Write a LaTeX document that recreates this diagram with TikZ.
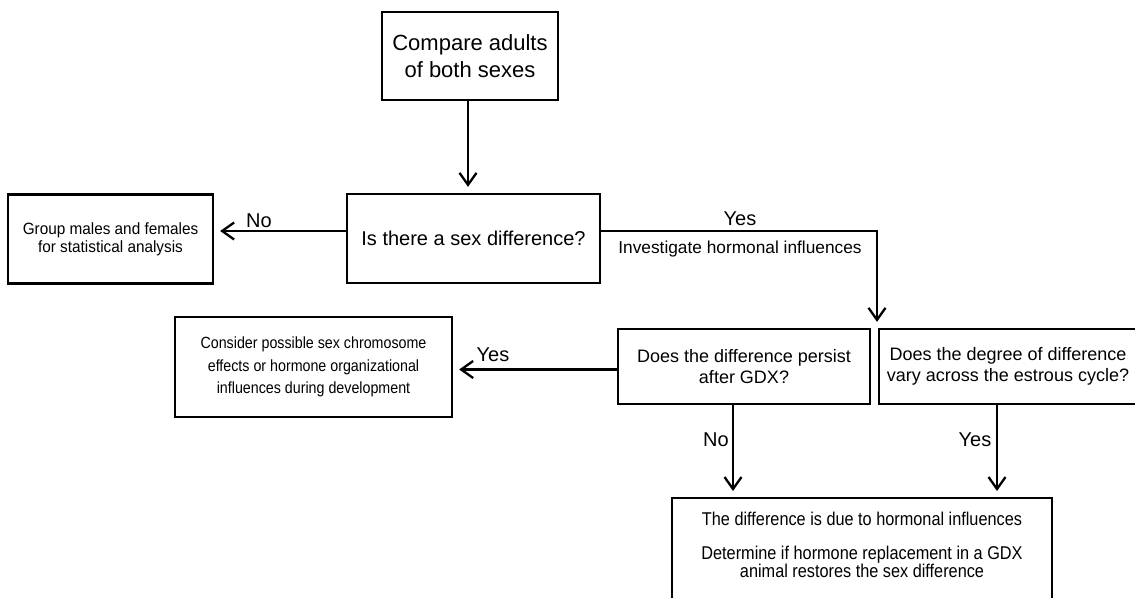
\documentclass[tikz,border=0pt]{standalone}
\usepackage{fontspec}
\setmainfont{Liberation Sans}
\newfontfamily\narrowsf[FakeStretch=0.88]{Liberation Sans}
\newfontfamily\semisf[FakeStretch=0.94]{Liberation Sans}
\usetikzlibrary{arrows.meta}

\newcommand{\fsz}[2]{\fontsize{#1}{#2}\selectfont}

\tikzset{
	box/.style={draw, line width=2.3pt, inner sep=0pt, align=center},
	arr/.style={line width=2.3pt, -{Straight Barb[length=12pt,width=17pt]}, shorten >=6pt},
	lbl/.style={inner sep=0pt, font=\fsz{20}{24}}
}

\begin{document}
\begin{tikzpicture}[x=1pt,y=-1pt]
				\useasboundingbox (0,0) rectangle (1135,597);
				\clip (0,0) rectangle (1135,597);
				
				% top of the chart
				\node[box, minimum width=176, minimum height=88, font=\fsz{22}{27}] (compare) at (470,56) {Compare adults\\of both sexes};
				\node[box, minimum width=253, minimum height=89, font=\fsz{20}{24}] (question) at (473.5,238.5) {Is there a sex difference?};
				\node[box, minimum width=205, minimum height=89, font=\semisf\fsz{16.3}{18}] (group) at (110.5,239) {Group males and females\\for statistical analysis};
				
				% second row
				\node[box, minimum width=277, minimum height=100, font=\narrowsf\fsz{16.2}{22.5}] (consider) at (313.5,367) {Consider possible sex chromosome\\effects or hormone organizational\\influences during development};
				\node[box, minimum width=252, minimum height=75, font=\fsz{18}{21}] (persist) at (744,366.5) {Does the difference persist\\after GDX?};
				\node[box, minimum width=258, minimum height=75, font=\fsz{18}{21}] (degree) at (1008,366.5) {Does the degree of difference\\vary across the estrous cycle?};
				
				% bottom box
				\node[box, minimum width=380, minimum height=130, anchor=north] (result) at (862,497) {};
				\node[inner sep=0pt, align=center, anchor=north, font=\narrowsf\fsz{18.5}{16}] (resulttext) at ([yshift=-15]result.north) {The difference is due to hormonal influences\\[18pt]Determine if hormone replacement in a GDX\\animal restores the sex difference};
				
				% labels on the arrows
				\foreach \n/\x/\y/\t in
				{nolbl/259/221/No, yeslbl/740/219/Yes, yesleft/493/355/Yes, nodown/716/440/No, yesdown/975/440/Yes}{
					\node[lbl] (\n) at (\x,\y) {\t};
				}
				\node[inner sep=0pt, font=\fsz{17.3}{20}] (invest) at (740,249) {Investigate hormonal influences};
				
				\coordinate (bend) at (877,231);
				
				\draw[arr] ([xshift=-2]compare.south) -- ([xshift=-2]compare.south |- question.north);
				\draw[arr] (question.east |- bend) -- (bend) -- (bend |- persist.north);
				\draw[arr] (question.west |- bend) -- (group.east |- bend);
				\draw[arr] ([yshift=-3]persist.west) -- ([yshift=-3]persist.west -| consider.east);
				\draw[arr] ([xshift=-11]persist.south) -- ([xshift=-11]persist.south |- result.north);
				\draw[arr] ([xshift=-11]degree.south) -- ([xshift=-11]degree.south |- result.north);
			\end{tikzpicture}
\end{document}
